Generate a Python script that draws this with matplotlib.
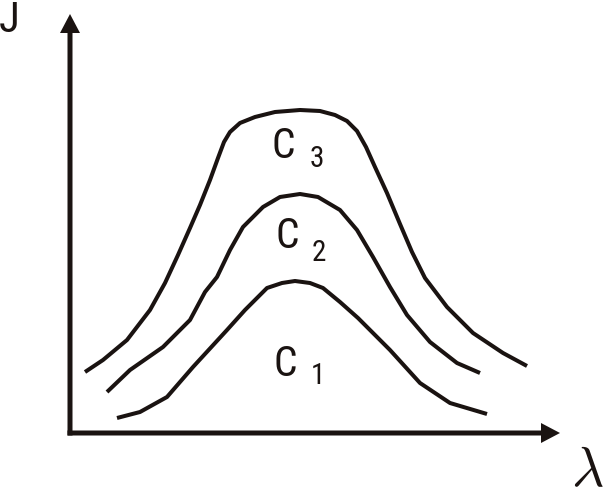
import matplotlib
matplotlib.use("Agg")
import matplotlib.pyplot as plt
from matplotlib import font_manager

# curves, in pixel units from the axis origin
# (x to the right, y upwards)
c3_x = [15, 33, 57, 80, 95, 108, 120, 130, 140, 148, 154, 160, 170, 185, 205, 230, 250, 265, 277, 287, 296, 305, 317, 330, 342, 355, 377, 403, 433, 457]
c3_y = [61, 73, 93, 123, 150, 178, 205, 228, 253, 275, 291, 301, 310, 316, 321, 323, 322, 318, 312, 302, 286, 266, 240, 209, 181, 155, 126, 100, 80, 67]

c2_x = [37, 60, 93, 120, 135, 147, 160, 173, 193, 210, 230, 248, 270, 287, 303, 320, 337, 360, 387, 410]
c2_y = [41, 63, 86, 113, 141, 156, 183, 206, 226, 236, 239, 236, 223, 203, 176, 146, 118, 91, 70, 60]

c1_x = [47, 70, 97, 123, 157, 175, 197, 212, 225, 240, 253, 270, 288, 320, 350, 380, 417]
c1_y = [15, 21, 36, 66, 103, 123, 145, 150, 152, 150, 145, 131, 115, 83, 50, 30, 19]

labels = ["C", "C", "C"]
subs = ["3", "2", "1"]
label_pos = [(213, 286), (217, 197), (215, 69)]
sub_pos = [(247, 274), (249, 180), (248, 57)]

names = {f.name for f in font_manager.fontManager.ttflist}
narrow = [n for n in ["Liberation Sans Narrow", "Roboto Condensed", "DejaVu Sans"] if n in names]

fig = plt.figure(figsize=(6.06, 4.97), dpi=100)
ax = fig.add_axes([0, 0, 1, 1])
ax.set_xlim(-70, 536)
ax.set_ylim(-64, 433)
ax.axis("off")

col = "#1a1311"

# axes with arrow heads
ax.arrow(0, -2.5, 0, 421.5, width=5, head_width=20, head_length=19,
         length_includes_head=True, color=col, lw=0)
ax.arrow(-2.5, 0, 492.5, 0, width=5, head_width=20, head_length=19,
         length_includes_head=True, color=col, lw=0)

for xs, ys in [(c3_x, c3_y), (c2_x, c2_y), (c1_x, c1_y)]:
    ax.plot(xs, ys, color=col, lw=2.9, solid_capstyle="butt", solid_joinstyle="round")

for lab, sub, (lx, ly), (sx, sy) in zip(labels, subs, label_pos, sub_pos):
    ax.text(lx, ly, lab, family=narrow, fontstretch="condensed", fontsize=30,
            color=col, ha="center", va="center")
    ax.text(sx, sy, sub, family=narrow, fontstretch="condensed", fontsize=21,
            color=col, ha="center", va="center")

ax.text(-61, 412, "J", family=narrow, fontstretch="condensed", fontsize=31,
        color=col, ha="center", va="center")
ax.text(517, -38, r"$\lambda$", math_fontfamily="cm", fontsize=40,
        color=col, ha="center", va="center")

fig.savefig("out.png", dpi=100)
